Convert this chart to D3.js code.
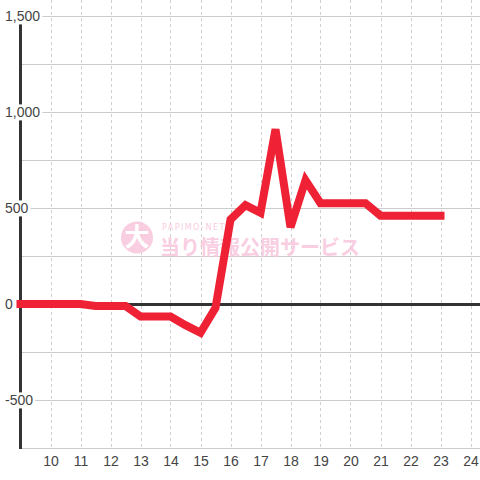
<!DOCTYPE html>
<html>
<head>
<meta charset="utf-8">
<script src="https://cdn.jsdelivr.net/npm/d3@7"></script>
<style>
  html, body { margin: 0; padding: 0; background: #fff; }
  svg { display: block; font-family: "Liberation Sans", Arial, sans-serif; }
</style>
</head>
<body>
<svg id="chart" width="480" height="480"></svg>
<script>
// 時刻 (30分刻み) と差枚
const hours = [9, 9.5, 10, 10.5, 11, 11.5, 12, 12.5, 13, 13.5, 14, 14.5, 15, 15.5,
               16, 16.5, 17, 17.5, 18, 18.5, 19, 19.5, 20, 20.5, 21, 21.5, 22, 22.5, 23];
const values = [0, 0, 0, 0, 0, -10, -10, -10, -65, -65, -65, -110, -150, -20,
                440, 515, 475, 910, 400, 645, 525, 525, 525, 525, 460, 460, 460, 460, 460];

const xTicks = [10, 11, 12, 13, 14, 15, 16, 17, 18, 19, 20, 21, 22, 23, 24];
const yTicks = [-500, 0, 500, 1000, 1500];
const yGrid = [-750, -500, -250, 0, 250, 500, 750, 1000, 1250, 1500];

const W = 480;
const plotLeft = 20.5, plotBottom = 448, plotTop = 16;

const svg = d3.select('#chart');

const x = d3.scaleLinear().domain([9, 24]).range([plotLeft, 470.5]);
const y = d3.scaleLinear().domain([-750, 1500]).range([plotBottom, plotTop]);

const fmt = d3.formatLocale({decimal: '.', thousands: ',', grouping: [3], currency: ['', ''], minus: '-'}).format(',');

// vertical dashed grid
svg.append('g')
    .selectAll('line')
    .data(xTicks)
    .enter()
    .append('line')
    .attr('x1', d => Math.round(x(d)) + 0.5)
    .attr('x2', d => Math.round(x(d)) + 0.5)
    .attr('y1', 0)
    .attr('y2', plotBottom)
    .attr('stroke', '#cfcfcf')
    .attr('stroke-dasharray', '3,3');

// horizontal grid
svg.append('g')
    .selectAll('line')
    .data(yGrid)
    .enter()
    .append('line')
    .attr('x1', plotLeft)
    .attr('x2', W)
    .attr('y1', d => Math.round(y(d)) + 0.5)
    .attr('y2', d => Math.round(y(d)) + 0.5)
    .attr('stroke', '#cccccc');

// watermark
const wm = svg.append('g').attr('opacity', 0.85);
wm.append('circle').attr('cx', 137).attr('cy', 237.5).attr('r', 16).attr('fill', '#f9c6dc');
wm.append('text').attr('x', 137).attr('y', 246).attr('text-anchor', 'middle')
    .attr('font-family', '"Noto Sans CJK JP", sans-serif').attr('font-weight', 'bold')
    .attr('font-size', 25).attr('fill', '#fff').text('大');
wm.append('text').attr('x', 162).attr('y', 229.5)
    .attr('font-family', '"DejaVu Sans Condensed", "DejaVu Sans", sans-serif')
    .attr('font-size', 9).attr('letter-spacing', 1.4).attr('fill', '#f9c6dc').text('PAPIMO-NET');
wm.append('text').attr('x', 160).attr('y', 255)
    .attr('font-family', '"Noto Sans CJK JP", sans-serif').attr('font-weight', 'bold')
    .attr('font-size', 20).attr('fill', '#f9c6dc').text('当り情報公開サービス');

// y axis line and zero line
svg.append('line')
    .attr('x1', plotLeft).attr('x2', plotLeft).attr('y1', plotTop).attr('y2', plotBottom + 1)
    .attr('stroke', '#333').attr('stroke-width', 3);
svg.append('line')
    .attr('x1', plotLeft).attr('x2', W).attr('y1', y(0) + 0.5).attr('y2', y(0) + 0.5)
    .attr('stroke', '#333').attr('stroke-width', 3);

// x axis labels
const xAxis = svg.append('g')
    .attr('transform', `translate(0, ${plotBottom})`)
    .call(d3.axisBottom(x).tickValues(xTicks).tickSize(0).tickPadding(0).tickFormat(d3.format('d')));
xAxis.select('.domain').remove();
xAxis.selectAll('text')
    .attr('y', 18)
    .attr('dy', 0)
    .attr('font-size', 14)
    .attr('font-family', '"Liberation Sans", Arial, sans-serif')
    .attr('fill', '#444');

// data line
const line = d3.line()
    .x((d, i) => x(hours[i]))
    .y(d => y(d));

svg.append('path')
    .datum(values)
    .attr('d', line)
    .attr('fill', 'none')
    .attr('stroke', '#ee2135')
    .attr('stroke-width', 8)
    .attr('stroke-linecap', 'square');

// y axis labels with white boxes
const yAxis = svg.append('g')
    .attr('transform', 'translate(5, 0)')
    .call(d3.axisRight(y).tickValues(yTicks).tickSize(0).tickPadding(0).tickFormat(fmt));
yAxis.select('.domain').remove();
yAxis.selectAll('.tick text')
    .attr('x', 0)
    .attr('dy', '0.35em')
    .attr('text-anchor', 'start')
    .attr('font-size', 14)
    .attr('font-family', '"Liberation Sans", Arial, sans-serif')
    .attr('fill', '#444');
yAxis.selectAll('.tick').each(function () {
    const t = d3.select(this).select('text');
    const b = t.node().getBBox();
    d3.select(this).insert('rect', 'text')
        .attr('x', b.x - 2)
        .attr('y', b.y)
        .attr('width', b.width + 4)
        .attr('height', b.height)
        .attr('fill', '#fff');
});
</script>
</body>
</html>
